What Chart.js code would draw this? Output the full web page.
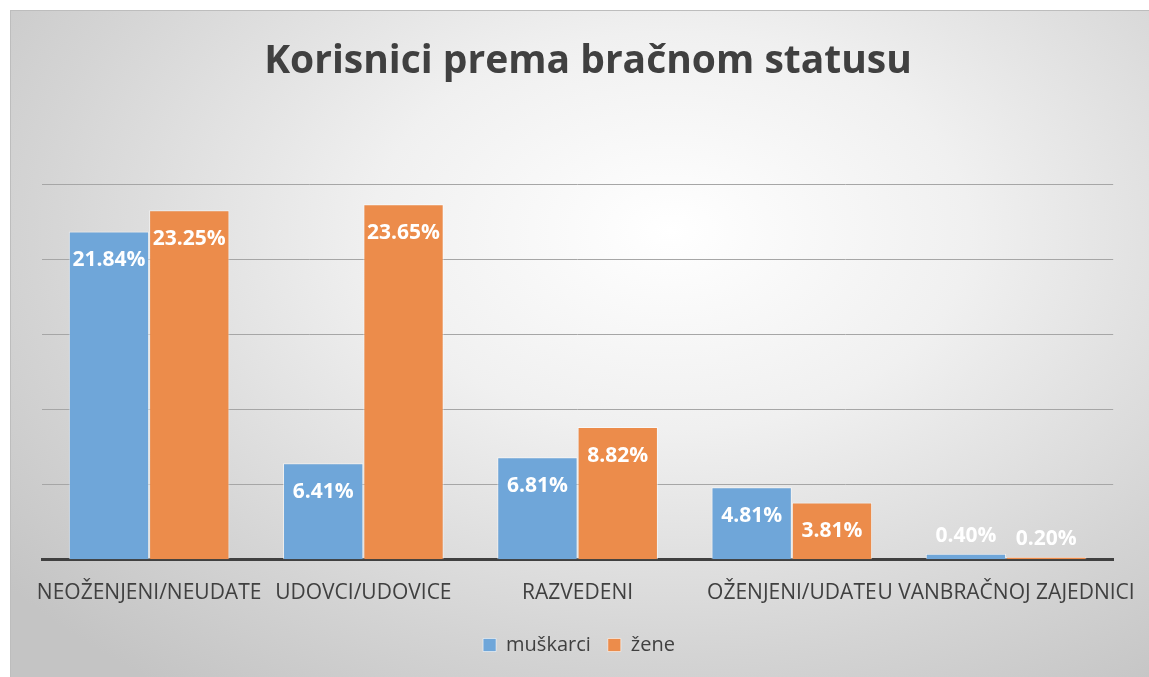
<!DOCTYPE html>
<html>
<head>
<meta charset="utf-8">
<script src="https://cdn.jsdelivr.net/npm/chart.js@4"></script>
<style>
  body { margin: 0; background: #fff; }
  #wrap {
    position: absolute; left: 10px; top: 10px; width: 1139px; height: 667px;
    border-top: 1px solid #bdbdbd; border-left: 1px solid #bdbdbd;
    box-sizing: border-box;
    background: radial-gradient(ellipse 75% 85% at 58% 33%, #ffffff 0%, #f0f0f0 35%, #d4d4d4 75%, #c4c4c4 100%);
  }
</style>
</head>
<body>
<div id="wrap"><canvas id="chart" width="1138" height="666"></canvas></div>
<script>
const categories = ["NEOŽENJENI/NEUDATE", "UDOVCI/UDOVICE", "RAZVEDENI", "OŽENJENI/UDATE", "U VANBRAČNOJ ZAJEDNICI"];
const muskarci = [21.84, 6.41, 6.81, 4.81, 0.40];
const zene = [23.25, 23.65, 8.82, 3.81, 0.20];
const seriesNames = ["muškarci", "žene"];
const chartTitle = 'Korisnici prema bračnom statusu';
const FONT = "'Open Sans', 'Noto Sans', sans-serif";

// value labels: inside the top of the bar, above it when the bar is too short
const valueLabels = {
    id: 'valueLabels',
    afterDatasetsDraw(chart) {
        const ctx = chart.ctx;
        ctx.save();
        ctx.font = "bold 21px " + FONT;
        ctx.textAlign = 'center';
        ctx.textBaseline = 'middle';
        ctx.fillStyle = '#ffffff';
        chart.data.datasets.forEach((ds, i) => {
            chart.getDatasetMeta(i).data.forEach((bar, j) => {
                const h = bar.base - bar.y;
                const y = h > 40 ? bar.y + 29 : bar.y - 18;
                ctx.fillText(ds.data[j].toFixed(2) + '%', bar.x, y);
            });
        });
        ctx.restore();
    }
};

// title drawn by hand so it can sit a bit right of the canvas centre, like the original
const titlePlugin = {
    id: 'titlePlugin',
    afterDraw(chart) {
        const ctx = chart.ctx;
        ctx.save();
        ctx.font = "bold 39px " + FONT;
        ctx.textAlign = 'center';
        ctx.textBaseline = 'middle';
        ctx.fillStyle = '#404040';
        ctx.fillText(chartTitle, 577, 51);
        ctx.restore();
    }
};

new Chart(document.getElementById('chart'), {
    type: 'bar',
    data: {
        labels: categories,
        datasets: [
            { label: seriesNames[0], data: muskarci, backgroundColor: '#6fa6d9', borderColor: 'rgba(255,255,255,0.55)', borderWidth: 1 },
            { label: seriesNames[1], data: zene, backgroundColor: '#ec8c4b', borderColor: 'rgba(255,255,255,0.55)', borderWidth: 1 }
        ]
    },
    options: {
        responsive: false,
        animation: false,
        categoryPercentage: 0.75,
        barPercentage: 1.0,
        layout: { padding: { left: 31, right: 33, top: 173, bottom: 12 } },
        plugins: {
            title: { display: false },
            legend: {
                position: 'bottom',
                labels: {
                    color: '#404040',
                    font: { family: FONT, size: 20 },
                    boxWidth: 13, boxHeight: 13,
                    padding: 17
                }
            },
            tooltip: { enabled: false }
        },
        scales: {
            x: {
                grid: { display: false },
                border: { color: '#404040', width: 3 },
                ticks: { color: '#404040', font: { family: FONT, size: 21, lineHeight: 1.35 }, maxRotation: 0, autoSkip: false, padding: 11 }
            },
            y: {
                min: 0, max: 25,
                ticks: { display: false, stepSize: 5 },
                grid: { color: '#a6a6a6', drawTicks: false },
                border: { display: false }
            }
        }
    },
    plugins: [valueLabels, titlePlugin]
});
</script>
</body>
</html>
